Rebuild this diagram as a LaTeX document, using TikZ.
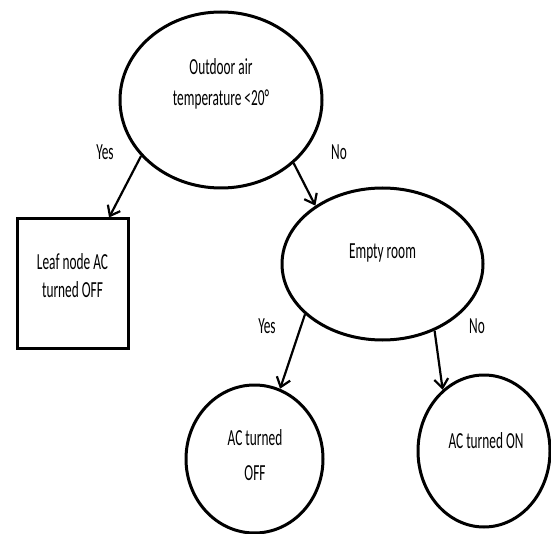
\documentclass[tikz,border=0pt]{standalone}
\usepackage{fontspec}
\usetikzlibrary{shapes.geometric,arrows.meta}
\newfontfamily\cf[FakeStretch=0.58]{Carlito}
\begin{document}
\begin{tikzpicture}[x=1pt,y=-1pt,
  shapeline/.style={draw=black,line width=3pt,inner sep=0pt},
  oval/.style={shapeline,ellipse},
  txt/.style={anchor=base,inner sep=0pt,font=\cf\fontsize{23}{28}\selectfont},
  arr/.style={line width=2.2pt,-{Straight Barb[length=9pt,width=14pt,line width=2.2pt]}}
]
\useasboundingbox (0,0) rectangle (551,534);
% shapes
\node[oval,minimum width=202pt,minimum height=176pt] (q1) at (221,100) {};
\node[shapeline,rectangle,minimum width=111pt,minimum height=129pt] (leaf) at (72.5,283.5) {};
\node[oval,minimum width=201pt,minimum height=152pt] (q2) at (382.5,264) {};
\node[oval,minimum width=137pt,minimum height=148pt] (off) at (254.5,459) {};
\node[oval,minimum width=132pt,minimum height=152pt] (on) at (484,451) {};
% texts
\node[txt] (q1a) at (221,75) {Outdoor air};
\node[txt] (q1b) at (221,106) {temperature <20°};
\node[txt] (leafa) at (72.5,270) {Leaf node AC};
\node[txt] (leafb) at (72.5,298) {turned OFF};
\node[txt] (q2a) at (382.5,259) {Empty room};
\node[txt] (offa) at (255,445) {AC turned};
\node[txt] (offb) at (255,480) {OFF};
\node[txt] (ona) at (486,448) {AC turned ON};
% edge labels
\node[txt] (yes1) at (105,160) {Yes};
\node[txt] (no1) at (339,160) {No};
\node[txt] (yes2) at (267,334) {Yes};
\node[txt] (no2) at (477,334) {No};
% connectors
\draw[arr] (q1.215) -- (leaf.61);
\draw[arr] (q1.319) -- (q2.139);
\draw[arr] (q2.213) -- (off.70);
\draw[arr] (q2.308) -- (on.124);
\end{tikzpicture}
\end{document}
